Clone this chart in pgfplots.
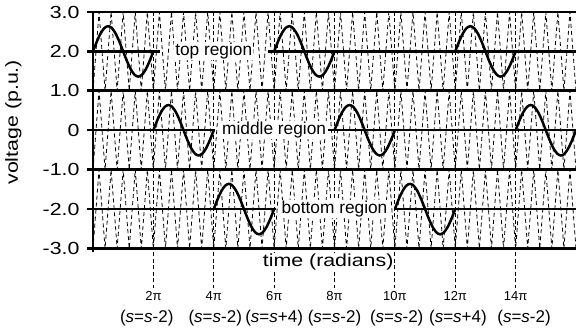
\documentclass[border=0pt]{standalone}
\usepackage{fontspec}
\setmainfont{Liberation Sans}
\newfontfamily\axfont{Liberation Sans}[FakeStretch=1.22]
\usepackage{pgfplots}
\pgfplotsset{compat=1.18}
\usepackage{pgfplotstable}

% one period of the reference sine (t in units of pi)
\pgfplotstableread[row sep=\\]{
t s\\
0 0\\0.125 0.2449\\0.25 0.4525\\0.375 0.5913\\0.5 0.64\\0.625 0.5913\\0.75 0.4525\\0.875 0.2449\\
1 0\\1.125 -0.2449\\1.25 -0.4525\\1.375 -0.5913\\1.5 -0.64\\1.625 -0.5913\\1.75 -0.4525\\1.875 -0.2449\\2 0\\
}\sinetab

% triangular carriers of the three regions
\pgfplotstableread[row sep=\\]{
x top mid bot\\
0 1 -1 -3\\0.2 3 1 -1\\0.4 1 -1 -3\\0.6 3 1 -1\\0.8 1 -1 -3\\1 3 1 -1\\1.2 1 -1 -3\\1.4 3 1 -1\\1.6 1 -1 -3\\1.8 3 1 -1\\
2 1 -1 -3\\2.2 3 1 -1\\2.4 1 -1 -3\\2.6 3 1 -1\\2.8 1 -1 -3\\3 3 1 -1\\3.2 1 -1 -3\\3.4 3 1 -1\\3.6 1 -1 -3\\3.8 3 1 -1\\
4 1 -1 -3\\4.2 3 1 -1\\4.4 1 -1 -3\\4.6 3 1 -1\\4.8 1 -1 -3\\5 3 1 -1\\5.2 1 -1 -3\\5.4 3 1 -1\\5.6 1 -1 -3\\5.8 3 1 -1\\
6 1 -1 -3\\6.2 3 1 -1\\6.4 1 -1 -3\\6.6 3 1 -1\\6.8 1 -1 -3\\7 3 1 -1\\7.2 1 -1 -3\\7.4 3 1 -1\\7.6 1 -1 -3\\7.8 3 1 -1\\
8 1 -1 -3\\8.2 3 1 -1\\8.4 1 -1 -3\\8.6 3 1 -1\\8.8 1 -1 -3\\9 3 1 -1\\9.2 1 -1 -3\\9.4 3 1 -1\\9.6 1 -1 -3\\9.8 3 1 -1\\
10 1 -1 -3\\10.2 3 1 -1\\10.4 1 -1 -3\\10.6 3 1 -1\\10.8 1 -1 -3\\11 3 1 -1\\11.2 1 -1 -3\\11.4 3 1 -1\\11.6 1 -1 -3\\11.8 3 1 -1\\
12 1 -1 -3\\12.2 3 1 -1\\12.4 1 -1 -3\\12.6 3 1 -1\\12.8 1 -1 -3\\13 3 1 -1\\13.2 1 -1 -3\\13.4 3 1 -1\\13.6 1 -1 -3\\13.8 3 1 -1\\
14 1 -1 -3\\14.2 3 1 -1\\14.4 1 -1 -3\\14.6 3 1 -1\\14.8 1 -1 -3\\15 3 1 -1\\15.2 1 -1 -3\\15.4 3 1 -1\\15.6 1 -1 -3\\15.8 3 1 -1\\
16 1 -1 -3\\
}\carrier

% dashed markers at the switching instants
\pgfplotstableread[row sep=\\]{
x y\\
2 3\\2 -4\\2 nan\\4 3\\4 -4\\4 nan\\6 3\\6 -4\\6 nan\\8 3\\8 -4\\8 nan\\
10 3\\10 -4\\10 nan\\12 3\\12 -4\\12 nan\\14 3\\14 -4\\
}\marks

\begin{document}
\begin{tikzpicture}
\useasboundingbox (-93pt,-82.5pt) rectangle (483pt,248.5pt);
\begin{axis}[
  at={(0,0)}, anchor=south west, scale only axis,
  width=483pt, height=236.5pt,
  xmin=0, xmax=16, ymin=-3, ymax=3,
  axis line style={draw=none},
  xtick=\empty,
  ytick={-3,-2,-1,0,1,2,3},
  yticklabels={-3.0,-2.0,-1.0,0,1.0,2.0,3.0},
  major tick length=0pt,
  yticklabel style={font=\axfont\fontsize{17.5}{18}\selectfont, xshift=-10pt},
  clip=false,
  carr/.style={black, line width=0.8pt, dash pattern=on 4pt off 3pt},
  sine/.style={black, line width=2.5pt, smooth},
]
% carriers
\addplot[carr] table[x=x, y=top]{\carrier};
\addplot[carr] table[x=x, y=mid]{\carrier};
\addplot[carr] table[x=x, y=bot]{\carrier};
% switching markers
\addplot[black, line width=0.9pt, dash pattern=on 4pt off 2.5pt, unbounded coords=jump] table[x=x, y=y]{\marks};
% frame and region boundaries
\addplot[black, line width=2pt] coordinates {(0,-3.1) (0,3)};
\addplot[black, line width=1.7pt] coordinates {(-0.2,3) (16,3)};
\addplot[black, line width=2.8pt] coordinates {(-0.2,1) (16,1)};
\addplot[black, line width=2.8pt] coordinates {(-0.2,-1) (16,-1)};
\addplot[black, line width=2.2pt] coordinates {(-0.2,-3) (16,-3)};
% region centre lines
\addplot[black, line width=2.2pt] coordinates {(-0.2,2) (2.23,2)};
\addplot[black, line width=2.2pt] coordinates {(5.81,2) (16,2)};
\addplot[black, line width=2.2pt] coordinates {(-0.2,0) (4.05,0)};
\addplot[black, line width=2.2pt] coordinates {(7.8,0) (16,0)};
\addplot[black, line width=2.2pt] coordinates {(-0.2,-2) (6.05,-2)};
\addplot[black, line width=2.2pt] coordinates {(9.97,-2) (16,-2)};
% reference sine segments
\addplot[sine] table[x expr=\thisrow{t}+0,  y expr=\thisrow{s}+2]{\sinetab};
\addplot[sine] table[x expr=\thisrow{t}+6,  y expr=\thisrow{s}+2]{\sinetab};
\addplot[sine] table[x expr=\thisrow{t}+12, y expr=\thisrow{s}+2]{\sinetab};
\addplot[sine] table[x expr=\thisrow{t}+2,  y expr=\thisrow{s}]{\sinetab};
\addplot[sine] table[x expr=\thisrow{t}+8,  y expr=\thisrow{s}]{\sinetab};
\addplot[sine] table[x expr=\thisrow{t}+14, y expr=\thisrow{s}]{\sinetab};
\addplot[sine] table[x expr=\thisrow{t}+4,  y expr=\thisrow{s}-2]{\sinetab};
\addplot[sine] table[x expr=\thisrow{t}+10, y expr=\thisrow{s}-2]{\sinetab};
% region labels
\node[fill=white, inner sep=1pt, font=\fontsize{17.3}{19}\selectfont] at (axis cs:4,2) {top region};
\node[fill=white, inner sep=1pt, font=\fontsize{17.3}{19}\selectfont] at (axis cs:6,0) {middle region};
\node[fill=white, inner sep=1pt, font=\fontsize{17.3}{19}\selectfont] at (axis cs:8,-2) {bottom region};
% axis labels
\node[fill=white, inner sep=1pt, font=\axfont\fontsize{17.5}{19}\selectfont] at (axis cs:7.79,-3.343) {time (radians)};
\node[rotate=90, font=\axfont\fontsize{17.5}{19}\selectfont] at (axis cs:-2.64,0.203) {voltage (p.u.)};
% tick labels on the time axis
\node[anchor=base, font=\fontsize{13}{14}\selectfont] at (axis cs:2,-4.325) {2π};
\node[anchor=base, font=\fontsize{13}{14}\selectfont] at (axis cs:4,-4.325) {4π};
\node[anchor=base, font=\fontsize{13}{14}\selectfont] at (axis cs:6,-4.325) {6π};
\node[anchor=base, font=\fontsize{13}{14}\selectfont] at (axis cs:8,-4.325) {8π};
\node[anchor=base, font=\fontsize{13}{14}\selectfont] at (axis cs:10,-4.325) {10π};
\node[anchor=base, font=\fontsize{13}{14}\selectfont] at (axis cs:12,-4.325) {12π};
\node[anchor=base, font=\fontsize{13}{14}\selectfont] at (axis cs:14,-4.325) {14π};
\node[anchor=base, font=\fontsize{17}{18}\selectfont] at (axis cs:1.78,-4.89) {(\textit{s}=\textit{s}-2)};
\node[anchor=base, font=\fontsize{17}{18}\selectfont] at (axis cs:4.05,-4.89) {(\textit{s}=\textit{s}-2)};
\node[anchor=base, font=\fontsize{17}{18}\selectfont] at (axis cs:6.0,-4.89) {(\textit{s}=\textit{s}+4)};
\node[anchor=base, font=\fontsize{17}{18}\selectfont] at (axis cs:8.0,-4.89) {(\textit{s}=\textit{s}-2)};
\node[anchor=base, font=\fontsize{17}{18}\selectfont] at (axis cs:10.06,-4.89) {(\textit{s}=\textit{s}-2)};
\node[anchor=base, font=\fontsize{17}{18}\selectfont] at (axis cs:12.09,-4.89) {(\textit{s}=\textit{s}+4)};
\node[anchor=base, font=\fontsize{17}{18}\selectfont] at (axis cs:14.28,-4.89) {(\textit{s}=\textit{s}-2)};
\end{axis}
\end{tikzpicture}
\end{document}
